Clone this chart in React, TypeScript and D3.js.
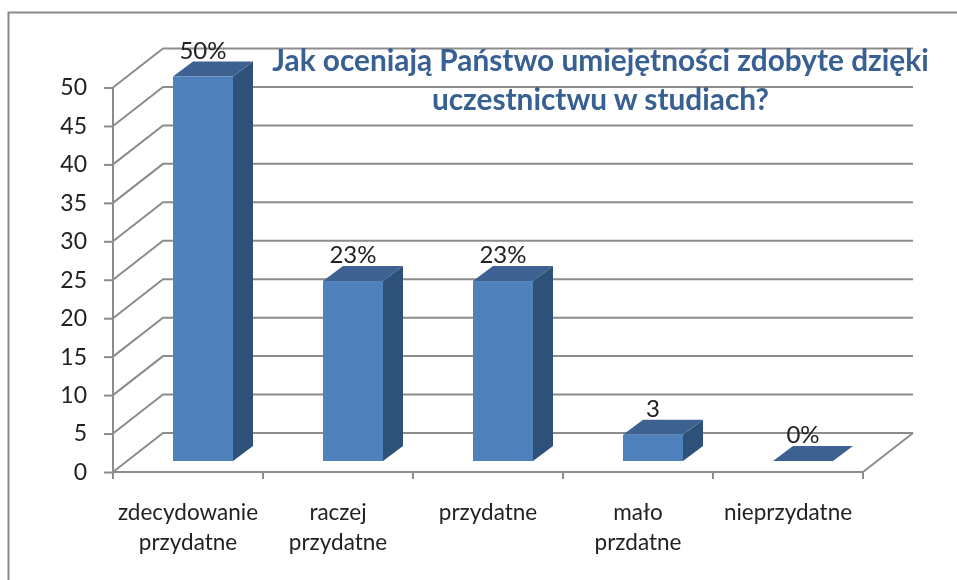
import React, { useEffect, useRef } from 'react';
import * as d3 from 'd3';

const categories = ["zdecydowanie przydatne", "raczej przydatne", "przydatne", "mało przdatne", "nieprzydatne"];
const categoryLines = [["zdecydowanie", "przydatne"], ["raczej", "przydatne"], ["przydatne"], ["mało", "przdatne"], ["nieprzydatne"]];
const values = [50, 23.4, 23.4, 3.4, 0];
const valueLabels = ["50%", "23%", "23%", "3", "0%"];
const yTicks = [0, 5, 10, 15, 20, 25, 30, 35, 40, 45, 50];
const titleLines = ["Jak oceniają Państwo umiejętności zdobyte dzięki", "uczestnictwu w studiach?"];

const width = 957;
const height = 580;
const font = "Lato, 'Open Sans', sans-serif";

export default function App() {
    const ref = useRef<SVGSVGElement>(null);

    useEffect(() => {
        const root = d3.select(ref.current);
        root.selectAll("*").remove();

        // the reference is a soft, upscaled screenshot
        root.append("defs").append("filter").attr("id", "soft")
            .attr("x", 0).attr("y", 0).attr("width", 1).attr("height", 1)
            .append("feGaussianBlur").attr("stdDeviation", 0.45);
        const svg = root.append("g").attr("filter", "url(#soft)");
        svg.append("rect").attr("width", width).attr("height", height).attr("fill", "#fff");

        const x = d3.scaleBand().domain(categories).range([113, 863]);
        const y = d3.scaleLinear().domain([0, 50]).range([472, 87.5]);

        // 3d offsets: back wall, and where the bars stand on the floor
        const wallX = 50, wallY = -39;
        const barX = 15, barY = -11;
        const depthX = 20, depthY = -15;
        const barW = 60;
        const grid = "#8c8c8c";

        // frame
        svg.append("path")
            .attr("d", `M8.5,${height}V12.5H${width}`)
            .attr("fill", "none").attr("stroke", "#8a8a8a").attr("stroke-width", 2);

        // gridlines on side + back wall
        svg.append("g").selectAll("path").data(yTicks).enter().append("path")
            .attr("d", d => d3.line()([
                [113, y(d)],
                [113 + wallX, y(d) + wallY],
                [863 + wallX, y(d) + wallY],
            ]))
            .attr("fill", "none").attr("stroke", grid).attr("stroke-width", 2);

        // floor right edge
        svg.append("path")
            .attr("d", d3.line()([[863, y(0)], [863 + wallX, y(0) + wallY]]))
            .attr("stroke", grid).attr("stroke-width", 2);

        // left axis
        const yAxis = svg.append("g")
            .attr("transform", "translate(113,0)")
            .call(d3.axisLeft(y).tickValues(yTicks).tickSize(9).tickPadding(17));
        yAxis.selectAll("path,line").attr("stroke", grid).attr("stroke-width", 2);
        yAxis.select(".domain").attr("d", `M0,${y(50)}V${y(0)}`);
        yAxis.selectAll("text")
            .attr("font-family", font).attr("font-size", 23).attr("fill", "#222");

        // bottom axis
        svg.append("path")
            .attr("d", `M113,${y(0)}H863`)
            .attr("stroke", grid).attr("stroke-width", 2);
        svg.append("g").selectAll("line").data([...categories.map(c => x(c)!), 863]).enter().append("line")
            .attr("x1", d => d).attr("x2", d => d)
            .attr("y1", y(0)).attr("y2", y(0) + 7)
            .attr("stroke", grid).attr("stroke-width", 2);

        // bars
        const bars = svg.append("g").selectAll("g").data(categories).enter().append("g");
        const left = (i: number) => x(categories[i])! + (x.bandwidth() - barW) / 2 + barX;
        const base = y(0) + barY;
        const top = (i: number) => y(values[i]) + barY;

        bars.append("path") // side
            .attr("d", (_, i) => d3.line()([
                [left(i) + barW, top(i)],
                [left(i) + barW + depthX, top(i) + depthY],
                [left(i) + barW + depthX, base + depthY],
                [left(i) + barW, base],
            ]) + "Z")
            .attr("fill", "#2f5179");
        bars.append("path") // top
            .attr("d", (_, i) => d3.line()([
                [left(i), top(i)],
                [left(i) + depthX, top(i) + depthY],
                [left(i) + barW + depthX, top(i) + depthY],
                [left(i) + barW, top(i)],
            ]) + "Z")
            .attr("fill", "#3c6291");
        bars.append("rect") // front
            .attr("x", (_, i) => left(i))
            .attr("y", (_, i) => top(i))
            .attr("width", barW)
            .attr("height", (_, i) => base - top(i))
            .attr("fill", "#4f81bd");

        // value labels
        svg.append("g").selectAll("text").data(valueLabels).enter().append("text")
            .attr("x", (_, i) => left(i) + barW / 2)
            .attr("y", (_, i) => top(i) - 18)
            .attr("text-anchor", "middle")
            .attr("font-family", font).attr("font-size", 24).attr("fill", "#222")
            .text(d => d);

        // category labels
        const cat = svg.append("g").selectAll("text").data(categoryLines).enter().append("text")
            .attr("text-anchor", "middle")
            .attr("font-family", font).attr("font-size", 22.5).attr("fill", "#222");
        cat.selectAll("tspan").data((d, i) => d.map(line => ({ line, i }))).enter().append("tspan")
            .attr("x", d => x(categories[d.i])! + x.bandwidth() / 2)
            .attr("y", (_, j) => 520 + j * 29.5)
            .text(d => d.line);

        // title
        svg.append("g").selectAll("text").data(titleLines).enter().append("text")
            .attr("x", 600.5)
            .attr("y", (_, i) => 71 + i * 38.5)
            .attr("text-anchor", "middle")
            .attr("font-family", font).attr("font-size", 29.8).attr("font-weight", 700).attr("fill", "#376092")
            .text(d => d);
    }, []);

    return <svg ref={ref} width={width} height={height} style={{ position: "absolute", left: 0, top: 0, background: "#fff" }}></svg>;
}
